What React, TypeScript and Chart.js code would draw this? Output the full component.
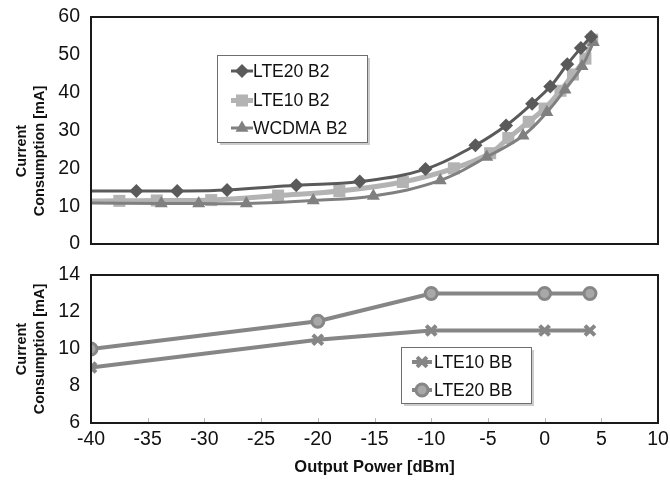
import React, { useEffect, useRef } from 'react';
import { Chart, registerables } from 'chart.js';
import { drawPoint } from 'chart.js/helpers';

Chart.register(...registerables);

const FONT = '"Liberation Sans", Arial, Helvetica, sans-serif';

// ---------- Top panel (B2) ----------
const lte20B2Power = [-41, -36, -32.4, -28, -21.9, -16.3, -10.5, -6.1, -3.4, -1.1, 0.5, 2, 3.2, 4.1];
const lte20B2Current = [14, 14, 14, 14.3, 15.5, 16.5, 19.8, 26.1, 31.3, 37.1, 41.6, 47.5, 51.8, 54.8];

const lte10B2Power = [-41, -37.5, -34.2, -29.4, -23.5, -18.1, -12.5, -8, -4.8, -3.2, -1.4, 0, 1.4, 2.5, 3.6, 4.2];
const lte10B2Current = [11.4, 11.4, 11.5, 11.6, 12.8, 14, 16.4, 20, 24, 28, 32.3, 35.8, 40.5, 44.8, 49, 54];

const wcdmaB2Power = [-41, -33.8, -30.5, -26.3, -20.4, -15.1, -9.2, -5.1, -1.9, 0.2, 1.8, 3.3, 4.3];
const wcdmaB2Current = [10.9, 10.7, 10.7, 10.7, 11.5, 12.7, 16.8, 23, 28.6, 34.8, 40.8, 47, 53.3];

// ---------- Bottom panel (BB) ----------
const bbPower = [-40, -20, -10, 0, 4];
const lte10BBCurrent = [9, 10.5, 11, 11, 11];
const lte20BBCurrent = [10, 11.5, 13, 13, 13];

// ---------- Axis ticks / labels ----------
const xTicks = [-40, -35, -30, -25, -20, -15, -10, -5, 0, 5, 10];
const topYTicks = [0, 10, 20, 30, 40, 50, 60];
const bottomYTicks = [6, 8, 10, 12, 14];
const yTitleLines = ['Current', 'Consumption [mA]'];
const xTitle = 'Output Power [dBm]';

const pts = (xs: number[], ys: number[]) => xs.map((x, i) => ({ x, y: ys[i] }));

const framePlugin = {
  id: 'frame',
  afterDatasetsDraw(chart: any, _args: any, o: any) {
    const { ctx, chartArea: a } = chart;
    ctx.save();
    if (o && o.innerTicks) {
      const xs = chart.scales.x;
      ctx.strokeStyle = '#b8b8b8';
      ctx.lineWidth = 1;
      for (const v of o.innerTicks) {
        const px = Math.round(xs.getPixelForValue(v)) + 0.5;
        ctx.beginPath();
        ctx.moveTo(px, a.bottom);
        ctx.lineTo(px, a.bottom - 5);
        ctx.stroke();
      }
    }
    ctx.strokeStyle = '#1a1a1a';
    ctx.lineWidth = 2;
    ctx.strokeRect(a.left, a.top, a.right - a.left, a.bottom - a.top);
    ctx.restore();
  },
};

const boxLegendPlugin = {
  id: 'boxLegend',
  afterDraw(chart: any, _args: any, o: any) {
    if (!o || !o.display) return;
    const { ctx, chartArea: a } = chart;
    const x = Math.round(a.left + o.left);
    const y = Math.round(a.top + o.top);
    ctx.save();
    ctx.fillStyle = 'rgba(0,0,0,0.2)';
    ctx.fillRect(x + 3, y + 3, o.width, o.height);
    ctx.fillStyle = '#ffffff';
    ctx.fillRect(x, y, o.width, o.height);
    ctx.strokeStyle = '#6e6e6e';
    ctx.lineWidth = 1;
    ctx.strokeRect(x + 0.5, y + 0.5, o.width, o.height);
    chart.data.datasets.forEach((ds: any, row: number) => {
      const cy = y + o.rows[row];
      const cx = x + o.symbolX;
      ctx.strokeStyle = ds.borderColor;
      ctx.lineWidth = ds.borderWidth;
      ctx.beginPath();
      ctx.moveTo(cx - o.lineHalf, cy);
      ctx.lineTo(cx + o.lineHalf, cy);
      ctx.stroke();
      ctx.fillStyle = ds.pointBackgroundColor;
      ctx.strokeStyle = ds.pointBorderColor;
      ctx.lineWidth = ds.pointBorderWidth;
      drawPoint(ctx, { pointStyle: ds.pointStyle, radius: ds.pointRadius, rotation: 0, borderWidth: ds.pointBorderWidth }, cx, cy);
      ctx.fillStyle = '#111111';
      ctx.font = `${o.fontSize}px ${FONT}`;
      ctx.textAlign = 'left';
      ctx.textBaseline = 'middle';
      ctx.fillText(ds.label, x + o.textX, cy + 1);
    });
    ctx.restore();
  },
};

const sideTitlePlugin = {
  id: 'sideTitle',
  afterDraw(chart: any, _args: any, o: any) {
    if (!o || !o.lines) return;
    const { ctx } = chart;
    ctx.save();
    ctx.font = `bold ${o.size}px ${FONT}`;
    ctx.fillStyle = '#111111';
    ctx.textAlign = 'center';
    ctx.textBaseline = 'middle';
    o.lines.forEach((t: string, i: number) => {
      ctx.save();
      ctx.translate(o.x + i * o.gap, o.y);
      ctx.rotate(-Math.PI / 2);
      ctx.fillText(t, 0, 0);
      ctx.restore();
    });
    ctx.restore();
  },
};

const tickFont = { family: FONT, size: 19.5 };

const fixY = (s: any) => {
  s.width = 82;
  s.paddingTop = 0;
  s.paddingBottom = 0;
};
const fixX = (h: number) => (s: any) => {
  s.height = h;
  s.paddingLeft = 0;
  s.paddingRight = 0;
};

function topConfig(): any {
  return {
    type: 'scatter',
    data: {
      datasets: [
        {
          label: 'LTE20 B2',
          data: pts(lte20B2Power, lte20B2Current),
          showLine: true,
          tension: 0.4,
          borderColor: '#5a5a5a',
          borderWidth: 3,
          pointStyle: 'rectRot',
          pointRadius: 7,
          pointBackgroundColor: '#5a5a5a',
          pointBorderColor: '#5a5a5a',
          pointBorderWidth: 0,
          order: 0,
        },
        {
          label: 'LTE10 B2',
          data: pts(lte10B2Power, lte10B2Current),
          showLine: true,
          tension: 0.4,
          borderColor: '#b3b3b3',
          borderWidth: 5,
          pointStyle: 'rect',
          pointRadius: 8.5,
          pointBackgroundColor: '#b3b3b3',
          pointBorderColor: '#b3b3b3',
          pointBorderWidth: 0,
          order: 2,
        },
        {
          label: 'WCDMA B2',
          data: pts(wcdmaB2Power, wcdmaB2Current),
          showLine: true,
          tension: 0.4,
          borderColor: '#808080',
          borderWidth: 3,
          pointStyle: 'triangle',
          pointRadius: 7.5,
          pointBackgroundColor: '#808080',
          pointBorderColor: '#808080',
          pointBorderWidth: 0,
          order: 1,
        },
      ],
    },
    options: {
      responsive: false,
      animation: false,
      events: [],
      layout: { padding: { left: 9, right: 12, top: 17, bottom: 11 } },
      scales: {
        x: {
          type: 'linear',
          min: -40,
          max: 10,
          display: false,
        },
        y: {
          min: 0,
          max: 60,
          afterFit: fixY,
          afterBuildTicks: (s: any) => { s.ticks = topYTicks.map((v) => ({ value: v })); },
          grid: { display: false, drawTicks: false },
          border: { display: false },
          ticks: { font: tickFont, color: '#111111', padding: 11 },
        },
      },
      plugins: {
        legend: { display: false },
        tooltip: { enabled: false },
        frame: {},
        boxLegend: {
          display: true,
          left: 126, top: 38, width: 150, height: 87,
          rows: [16, 45.5, 73], symbolX: 25, lineHalf: 11, textX: 36, fontSize: 17.5,
        },
        sideTitle: { lines: yTitleLines, x: 22, y: 151, gap: 18, size: 14.5 },
      },
    },
    plugins: [framePlugin, boxLegendPlugin, sideTitlePlugin],
  };
}

function bottomConfig(): any {
  return {
    type: 'scatter',
    data: {
      datasets: [
        {
          label: 'LTE10 BB',
          data: pts(bbPower, lte10BBCurrent),
          showLine: true,
          tension: 0,
          borderColor: '#868686',
          borderWidth: 4,
          pointStyle: 'crossRot',
          pointRadius: 7,
          pointBackgroundColor: '#868686',
          pointBorderColor: '#868686',
          pointBorderWidth: 4,
        },
        {
          label: 'LTE20 BB',
          data: pts(bbPower, lte20BBCurrent),
          showLine: true,
          tension: 0,
          borderColor: '#868686',
          borderWidth: 4,
          pointStyle: 'circle',
          pointRadius: 6,
          pointBackgroundColor: '#a8a8a8',
          pointBorderColor: '#868686',
          pointBorderWidth: 3,
        },
      ],
    },
    options: {
      responsive: false,
      animation: false,
      events: [],
      layout: { padding: { left: 9, right: 12, top: 20, bottom: 0 } },
      scales: {
        x: {
          type: 'linear',
          min: -40,
          max: 10,
          afterFit: fixX(62),
          afterBuildTicks: (s: any) => { s.ticks = xTicks.map((v) => ({ value: v })); },
          grid: { display: false, drawTicks: false },
          border: { display: false },
          ticks: { font: tickFont, color: '#111111', padding: 5, maxRotation: 0 },
          title: {
            display: true,
            text: xTitle,
            font: { family: FONT, size: 16.5, weight: 'bold' },
            color: '#111111',
            padding: { top: 0, bottom: 8 },
          },
        },
        y: {
          min: 6,
          max: 14,
          afterFit: fixY,
          afterBuildTicks: (s: any) => { s.ticks = bottomYTicks.map((v) => ({ value: v })); },
          grid: { display: false, drawTicks: false },
          border: { display: false },
          ticks: { font: tickFont, color: '#111111', padding: 11 },
          title: {
            display: true,
            text: yTitleLines,
            font: { family: FONT, size: 14.5, weight: 'bold', lineHeight: 1.24 },
            color: '#111111',
            padding: { top: 4, bottom: 4 },
          },
        },
      },
      plugins: {
        legend: { display: false },
        tooltip: { enabled: false },
        frame: { innerTicks: [-35, -30, -25, -20, -15, -10, -5, 0, 5] },
        boxLegend: {
          display: true,
          left: 310, top: 72, width: 130, height: 56,
          rows: [15, 43], symbolX: 21, lineHalf: 10, textX: 33, fontSize: 17.5,
        },
      },
    },
    plugins: [framePlugin, boxLegendPlugin],
  };
}

export default function App() {
  const topRef = useRef<HTMLCanvasElement>(null);
  const botRef = useRef<HTMLCanvasElement>(null);
  useEffect(() => {
    const c1 = new Chart(topRef.current as HTMLCanvasElement, topConfig());
    const c2 = new Chart(botRef.current as HTMLCanvasElement, bottomConfig());
    return () => {
      c1.destroy();
      c2.destroy();
    };
  }, []);
  return (
    <div style={{ position: 'fixed', left: 0, top: 0, width: 670, height: 485, background: '#ffffff' }}>
      <canvas ref={topRef} width={670} height={255} style={{ position: 'absolute', left: 0, top: 0 }} />
      <canvas ref={botRef} width={670} height={230} style={{ position: 'absolute', left: 0, top: 255 }} />
    </div>
  );
}
